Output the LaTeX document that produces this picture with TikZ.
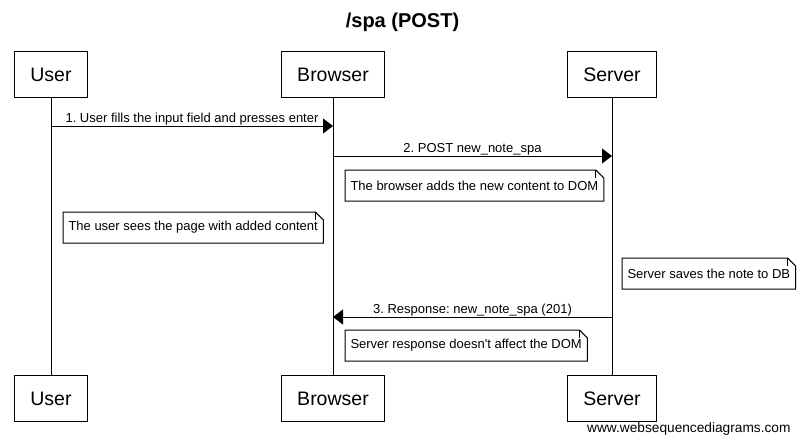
\documentclass[tikz,border=0pt]{standalone}
\usepackage{fontspec}
\setmainfont{Liberation Sans}[Ligatures=TeXOff]
\usetikzlibrary{arrows.meta}
\frenchspacing

% folded-corner outline round a note node
\newcommand{\dogear}[1]{%
  \draw (#1.south west) -- (#1.north west) -- ([xshift=-8pt]#1.north east)
        -- ([yshift=-8pt]#1.north east) -- (#1.south east) -- cycle;
  \draw ([xshift=-8pt]#1.north east) -- ([xshift=-8pt,yshift=-8pt]#1.north east);}

\begin{document}
\begin{tikzpicture}[x=1pt, y=-1pt, line width=1pt,
     >={Triangle[length=10pt, width=15pt]},
     actor/.style = {draw, fill=white, minimum height=46pt,
       inner xsep=15.5pt, font=\fontsize{19.5}{22}\selectfont},
     note/.style = {fill=white, anchor=north west, minimum height=30pt,
       inner xsep=5pt, font=\fontsize{13}{15}\selectfont},
     msg/.style = {anchor=base, yshift=4pt, font=\fontsize{13}{15}\selectfont}]
  \useasboundingbox (0,0) rectangle (806,444);

  \node [font=\bfseries\fontsize{20}{24}\selectfont] at (402.5,22) (title) {/spa (POST)};

  % actors, top and bottom
  \node [actor, anchor=north] at (51,51)   (userT)    {User};
  \node [actor, anchor=north] at (333,51)  (browserT) {Browser};
  \node [actor, anchor=north] at (612,51)  (serverT)  {Server};
  \node [actor, anchor=north] at (51,375)  (userB)    {User};
  \node [actor, anchor=north] at (333,375) (browserB) {Browser};
  \node [actor, anchor=north] at (612,375) (serverB)  {Server};

  % lifelines
  \draw (userT) -- (userB);
  \draw (browserT) -- (browserB);
  \draw (serverT) -- (serverB);

  % message points
  \coordinate (u1) at (51,126);
  \coordinate (b1) at (333,126);
  \coordinate (b2) at (333,156);
  \coordinate (s2) at (612,156);
  \coordinate (s3) at (612,317);
  \coordinate (b3) at (333,317);

  \draw [->] (u1) -- node [msg] {1. User fills the input field and presses enter} (b1);
  \draw [->] (b2) -- node [msg] {2. POST new\_note\_spa} (s2);
  \draw [->] (s3) -- node [msg] {3. Response: new\_note\_spa (201)} (b3);

  % notes
  \node [note] at (345,170) (noteDom)  {The browser adds the new content to DOM};
  \dogear{noteDom}
  \node [note] at (63,212)  (noteUser) {The user sees the page with added content};
  \dogear{noteUser}
  \node [note] at (622,258) (noteDb)   {Server saves the note to DB};
  \dogear{noteDb}
  \node [note] at (345,330) (noteResp) {Server response doesn't affect the DOM};
  \dogear{noteResp}

  \node [anchor=base east, inner sep=0pt, font=\fontsize{13.7}{16}\selectfont]
    at (791,432) (footer) {www.websequencediagrams.com};
\end{tikzpicture}
\end{document}
